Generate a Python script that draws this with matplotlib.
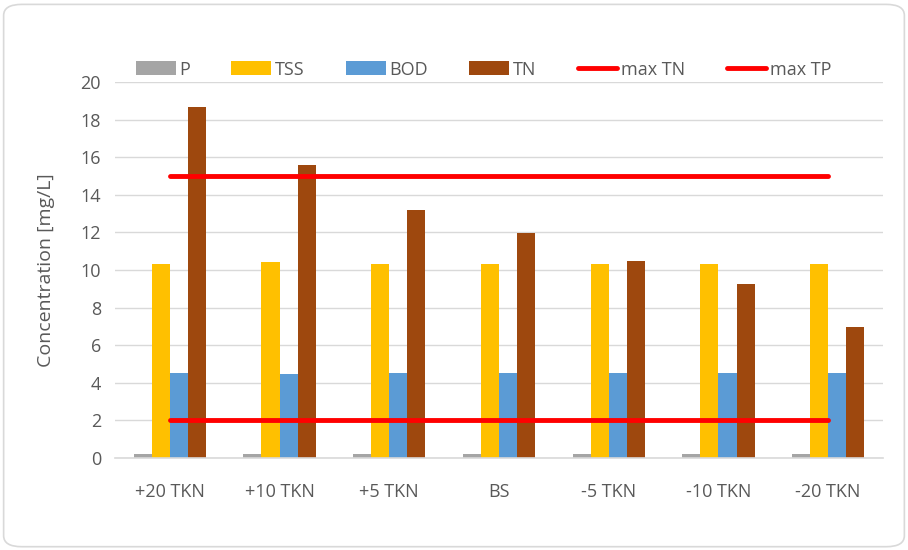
import numpy as np
import matplotlib.pyplot as plt
from matplotlib.patches import FancyBboxPatch

# scenario categories and measured concentrations
scenarios = ['+20 TKN', '+10 TKN', '+5 TKN', 'BS', '-5 TKN', '-10 TKN', '-20 TKN']
p_vals = [0.2, 0.2, 0.2, 0.2, 0.2, 0.2, 0.2]
tss_vals = [10.3, 10.4, 10.3, 10.3, 10.3, 10.3, 10.3]
bod_vals = [4.5, 4.45, 4.5, 4.5, 4.5, 4.5, 4.5]
tn_vals = [18.65, 15.6, 13.2, 11.95, 10.5, 9.25, 6.95]
max_tn = [15] * 7
max_tp = [2] * 7

plt.rcParams['font.family'] = ['Open Sans', 'DejaVu Sans']
text_col = '#595959'

fig = plt.figure(figsize=(9.08, 5.5), dpi=100)
ax = fig.add_axes([115/908, 1 - 458/550, 768/908, 376/550])

# rounded chart border
fig.patches.append(FancyBboxPatch((0.004, 0.006), 0.992, 0.986,
                                  boxstyle='round,pad=0,rounding_size=0.02',
                                  transform=fig.transFigure, fc='none',
                                  ec='#D9D9D9', lw=1.2))

x = np.arange(len(scenarios))
w = 0.165
series = [(p_vals, '#A5A5A5', 'P'), (tss_vals, '#FFC000', 'TSS'),
          (bod_vals, '#5B9BD5', 'BOD'), (tn_vals, '#9E480E', 'TN')]
handles = []
for i, (vals, col, lab) in enumerate(series):
    handles.append(ax.bar(x + (i - 1.5) * w, vals, w, color=col, label=lab, zorder=2))

l1, = ax.plot(x, max_tn, color='#FF0000', lw=3.5, solid_capstyle='round', label='max TN', zorder=3)
l2, = ax.plot(x, max_tp, color='#FF0000', lw=3.5, solid_capstyle='round', label='max TP', zorder=3)
handles += [l1, l2]

ax.set_xlim(-0.5, len(scenarios) - 0.5)
ax.set_ylim(0, 20)
ax.set_yticks(np.arange(0, 21, 2))
ax.set_xticks(x)
ax.set_xticklabels(scenarios)
ax.grid(axis='y', color='#D9D9D9', lw=1, zorder=0)
for s in ['top', 'right', 'left']:
    ax.spines[s].set_visible(False)
ax.spines['bottom'].set_color('#D9D9D9')
ax.spines['bottom'].set_linewidth(1.2)
ax.tick_params(axis='both', length=0, labelsize=13, colors=text_col, pad=10)
ax.tick_params(axis='x', pad=18)
ax.set_ylabel('Concentration [mg/L]', fontsize=14, color=text_col, labelpad=18)

ax.legend(handles=handles, loc='lower center', bbox_to_anchor=(0.48, 0.99), ncol=6,
          frameon=False, fontsize=13, labelcolor=text_col, handlelength=2.2,
          handleheight=0.8, handletextpad=0.2, columnspacing=2.3, borderaxespad=0.0)

fig.savefig('out.png', dpi=100)
